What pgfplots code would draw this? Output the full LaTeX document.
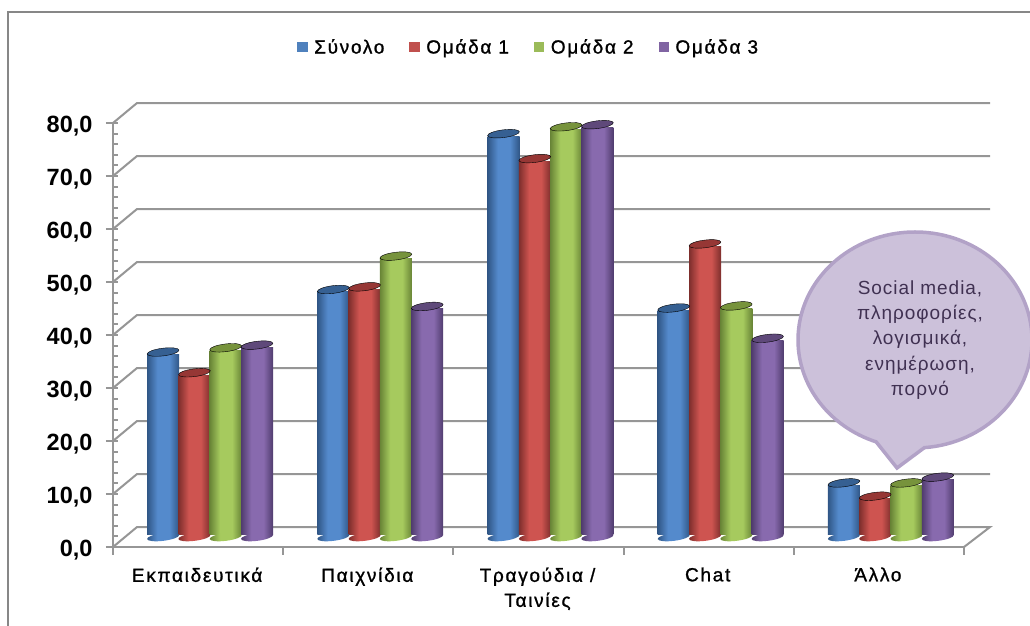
\documentclass[border=0pt]{standalone}
\usepackage{fontspec}
\setmainfont{Liberation Sans}
\newfontfamily\legfont[LetterSpace=9,FakeBold=1.2]{Liberation Sans}
\newfontfamily\notefont[LetterSpace=5]{Liberation Sans}
\usepackage{pgfplots}
\usepackage{pgfplotstable}
\pgfplotsset{compat=1.18}
\usetikzlibrary{shapes.callouts}

\definecolor{gridc}{RGB}{150,150,150}
\definecolor{frame}{RGB}{135,135,135}
\definecolor{bubblefill}{RGB}{204,193,218}
\definecolor{bubbleline}{RGB}{178,162,199}
\definecolor{bubbletext}{RGB}{64,49,82}

\definecolor{sA}{RGB}{79,129,189}
\definecolor{sB}{RGB}{192,80,77}
\definecolor{sC}{RGB}{155,187,89}
\definecolor{sD}{RGB}{128,100,162}

\definecolor{sAEdge}{RGB}{48,86,134}
\definecolor{sAMid}{RGB}{84,138,204}
\definecolor{sATop}{RGB}{54,96,146}
\definecolor{sBEdge}{RGB}{125,46,44}
\definecolor{sBMid}{RGB}{206,84,80}
\definecolor{sBTop}{RGB}{150,55,53}
\definecolor{sCEdge}{RGB}{104,132,54}
\definecolor{sCMid}{RGB}{166,202,94}
\definecolor{sCTop}{RGB}{119,147,60}
\definecolor{sDEdge}{RGB}{80,60,110}
\definecolor{sDMid}{RGB}{136,106,174}
\definecolor{sDTop}{RGB}{95,73,122}

% cylinder body shading and the rounded foot, one per series
\newcommand\defcyl[1]{%
  \pgfdeclarehorizontalshading{#1shade}{100bp}{%
    color(0bp)=(#1Edge); color(25bp)=(#1Edge); color(41bp)=(#1Mid);
    color(60bp)=(#1Mid); color(75bp)=(#1Edge); color(100bp)=(#1Edge)}%
  \pgfdeclareplotmark{#1base}{%
    \pgfpathellipse{\pgfpointorigin}{\pgfqpoint{16pt}{2pt}}{\pgfqpoint{-0.5pt}{3.8pt}}%
    \pgfshadepath{#1shade}{0}\pgfusepath{discard}}%
}
\defcyl{sA}\defcyl{sB}\defcyl{sC}\defcyl{sD}

\pgfplotstableread{
a b c d
34.9 31.0 35.7 36.2
46.7 47.2 53.0 43.5
76.1 71.4 77.4 77.8
43.2 55.3 43.6 37.5
10.2 7.7 10.2 11.3
}\usedata

% a bar plot is one path, so each bar gets its own plot to be shaded by itself
% column, colour prefix, x offset in pt, row, row+1
\newcommand\onebar[5]{%
  \addplot[forget plot,ybar,bar width=32pt,bar shift=0pt,draw=none,shade,shading=#2shade,
    xshift=#3pt,yshift=12.5pt]
    table[skip coords between index={0}{#4},skip coords between index={#5}{5},
      x expr=\coordindex+0.5,y expr=\thisrow{#1}-0.94]{\usedata};
}
\newcommand\cyl[3]{%
  \addplot[forget plot,only marks,mark=#2base,xshift=#3pt,yshift=10pt]
    table[x expr=\coordindex+0.5,y expr=0]{\usedata};
  \onebar{#1}{#2}{#3}{0}{1}
  \onebar{#1}{#2}{#3}{1}{2}
  \onebar{#1}{#2}{#3}{2}{3}
  \onebar{#1}{#2}{#3}{3}{4}
  \onebar{#1}{#2}{#3}{4}{5}
  \addplot[forget plot,only marks,mark=*,mark size=16pt,
    mark options={draw=none,fill=#2Top,rotate=7,yscale=0.24},xshift=#3pt,yshift=10pt]
    table[x expr=\coordindex+0.5,y=#1]{\usedata};
}

\begin{document}
\begin{tikzpicture}
\useasboundingbox (-113pt,-79pt) rectangle (917pt,547pt);
\draw[frame,line width=2pt] (-105pt,-79pt) -- (-105pt,535pt) -- (917pt,535pt);
\begin{axis}[
  at={(0pt,0pt)},anchor=south west,
  scale only axis,width=851pt,height=424pt,
  xmin=0,xmax=5,ymin=0,ymax=80,
  enlargelimits=false,clip=false,
  unbounded coords=jump,
  axis x line*=bottom,axis y line*=left,
  axis line style={gridc,line width=2pt},
  xtick={0.5,1.5,2.5,3.5,4.5},
  xticklabels={Εκπαιδευτικά,Παιχνίδια,Τραγούδια /\\Ταινίες,Chat,Άλλο},
  major x tick style={draw=none},
  xticklabel style={font=\legfont\fontsize{19}{25}\selectfont,align=center,yshift=-11pt,xshift=-1pt},
  ytick={0,10,...,80},
  minor y tick num=4,
  tick align=center,
  major tick length=12pt,minor tick length=5pt,
  major y tick style={gridc,line width=2pt,xshift=-1pt},
  minor y tick style={gridc,line width=2pt,xshift=2.5pt},
  yticklabel style={font=\bfseries\fontsize{23.5}{25}\selectfont,xshift=-11pt,yshift=-3pt,
    /pgf/number format/.cd,fixed,fixed zerofill,precision=1,use comma,assume math mode=true},
  legend columns=4,
  legend style={at={(0.4885,1.179)},anchor=center,draw=none,fill=none,
    font=\legfont\fontsize{19}{20}\selectfont,
    /tikz/every odd column/.append style={column sep=5pt},
    /tikz/every even column/.append style={column sep=23pt}},
  legend image code/.code={\fill[#1] (0pt,-4.5pt) rectangle (9.5pt,5pt);},
]
\addlegendimage{sA}\addlegendentry{Σύνολο}
\addlegendimage{sB}\addlegendentry{Ομάδα 1}
\addlegendimage{sC}\addlegendentry{Ομάδα 2}
\addlegendimage{sD}\addlegendentry{Ομάδα 3}

% back wall grid with its diagonals, floor edge, and the ticks under the axis
\addplot[forget plot,gridc,line width=2pt,mark=none] coordinates {
  (0,0)(0.141,3.77)(5.153,3.77)(5,0)(5,nan)
  (0,10)(0.141,13.77)(5.153,13.77)(5.153,nan)
  (0,20)(0.141,23.77)(5.153,23.77)(5.153,nan)
  (0,30)(0.141,33.77)(5.153,33.77)(5.153,nan)
  (0,40)(0.141,43.77)(5.153,43.77)(5.153,nan)
  (0,50)(0.141,53.77)(5.153,53.77)(5.153,nan)
  (0,60)(0.141,63.77)(5.153,63.77)(5.153,nan)
  (0,70)(0.141,73.77)(5.153,73.77)(5.153,nan)
  (0,80)(0.141,83.77)(5.153,83.77)(5.153,nan)
};
\addplot[forget plot,gridc,line width=2pt,mark=none] coordinates {
  (0,0)(0,-1.5)(0,nan)(1,0)(1,-1.5)(1,nan)(2,0)(2,-1.5)(2,nan)
  (3,0)(3,-1.5)(3,nan)(4,0)(4,-1.5)(4,nan)(5,0)(5,-1.5)
};

\cyl{a}{sA}{-35}
\cyl{b}{sB}{-3.7}
\cyl{c}{sC}{27.6}
\cyl{d}{sD}{58.9}
\end{axis}
\node[ellipse callout,draw=bubbleline,fill=bubblefill,line width=3.5pt,
  minimum width=234pt,minimum height=216pt,inner sep=0pt,outer sep=0pt,
  callout pointer arc=24,callout absolute pointer={(784pt,79pt)}]
  at (802pt,207pt) {};
\node[text=bubbletext,align=center,font=\notefont\fontsize{19}{25.2}\selectfont]
  at (807pt,207pt) {Social media,\\πληροφορίες,\\λογισμικά,\\ενημέρωση,\\πορνό};
\end{tikzpicture}
\end{document}
